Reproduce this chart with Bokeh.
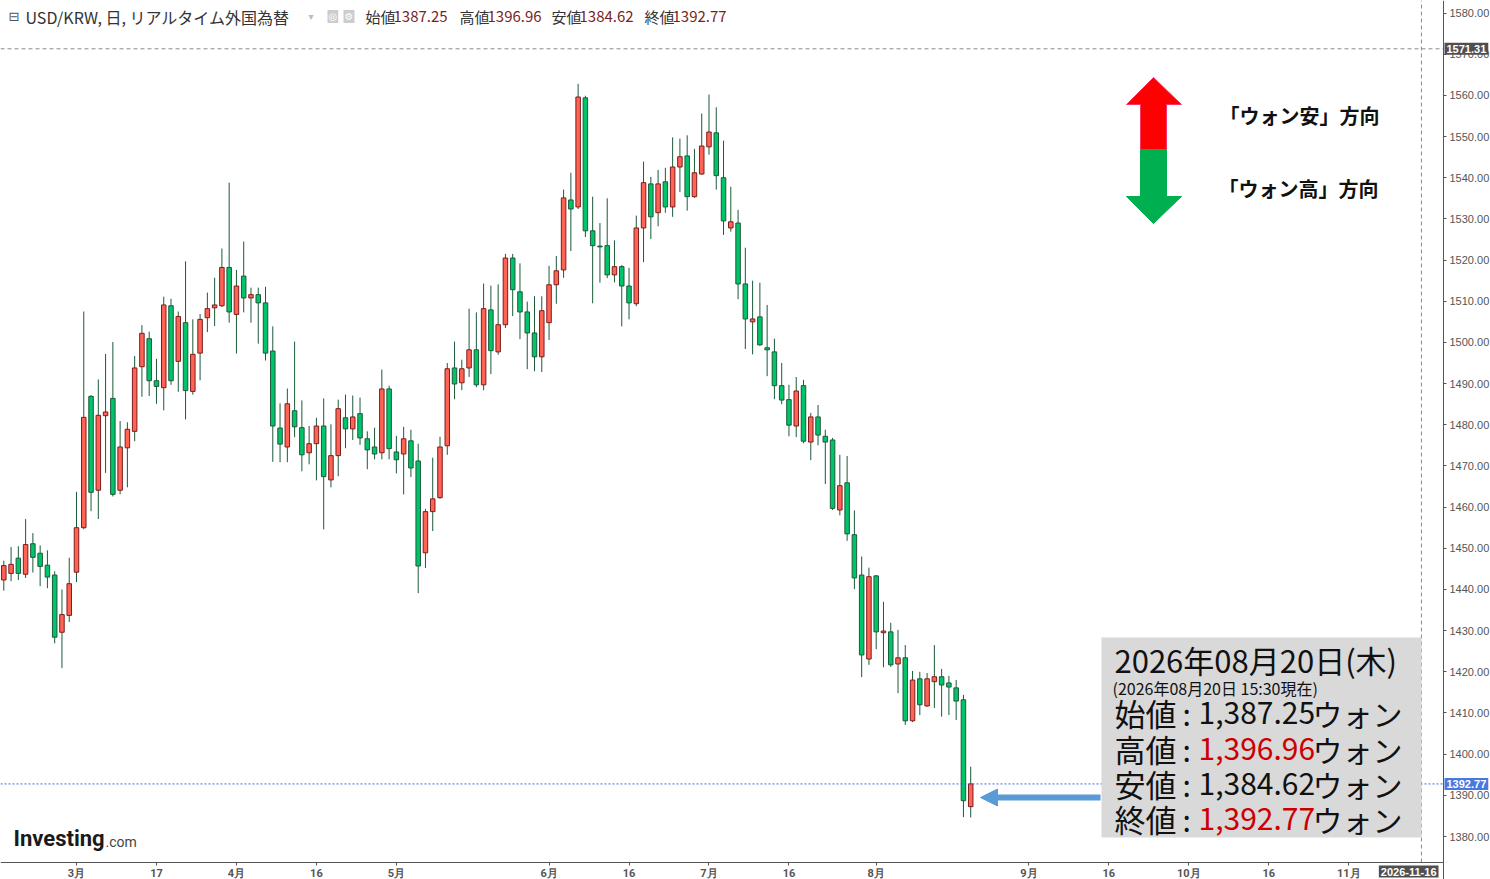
import numpy as np
from bokeh.plotting import figure
from bokeh.models import (Range1d, FixedTicker, NumeralTickFormatter, Label,
                          BoxAnnotation, Arrow, NormalHead, ColumnDataSource)
from bokeh.embed import file_html
from bokeh.resources import INLINE

# ---------------- data ----------------
start_date = "2026-02-16"

opens = [1442.3, 1443.9, 1447.6, 1443.7, 1451.1, 1448.8, 1445.9, 1443.5, 1429.6, 1433.7,
         1444.2, 1455.0, 1486.9, 1464.1, 1482.2, 1486.4, 1464.1, 1474.4, 1478.4, 1494.1,
         1500.9, 1490.7, 1489.0, 1508.9, 1495.4, 1504.8, 1488.1, 1497.4, 1506.0, 1508.4,
         1508.9, 1518.2, 1506.8, 1516.1, 1510.8, 1511.6, 1509.6, 1497.9, 1479.2, 1474.6,
         1483.4, 1479.3, 1473.2, 1475.4, 1479.7, 1466.6, 1472.5, 1481.7, 1479.0, 1482.7,
         1476.6, 1474.6, 1473.2, 1488.7, 1473.4, 1472.9, 1476.1, 1471.2, 1448.9, 1458.9,
         1462.3, 1474.9, 1493.8, 1490.2, 1493.8, 1498.2, 1489.7, 1507.9, 1497.7, 1504.3,
         1520.5, 1512.3, 1507.4, 1502.3, 1496.5, 1504.8, 1514.0, 1517.6, 1534.6, 1532.9,
         1559.4, 1527.1, 1523.4, 1523.5, 1516.4, 1518.4, 1513.7, 1509.4, 1527.8, 1538.5,
         1531.5, 1539.0, 1532.9, 1542.6, 1545.3, 1535.4, 1540.9, 1547.5, 1550.9, 1540.0,
         1527.8, 1529.0, 1514.2, 1505.0, 1506.2, 1498.7, 1497.7, 1489.5, 1486.1, 1479.7,
         1489.5, 1475.8, 1481.9, 1477.2, 1476.3, 1459.3, 1465.9, 1453.3, 1443.5, 1423.1,
         1443.3, 1429.5, 1429.7, 1421.9, 1423.4, 1408.1, 1418.3, 1411.7, 1417.6, 1418.8,
         1417.3, 1416.1, 1413.2, 1387.25]

highs = [1447.0, 1450.3, 1450.5, 1457.1, 1453.7, 1450.7, 1449.5, 1444.4, 1440.0, 1447.7,
         1463.7, 1507.5, 1487.2, 1491.0, 1497.2, 1500.1, 1480.9, 1480.6, 1496.7, 1504.2,
         1502.6, 1496.0, 1511.1, 1510.6, 1507.5, 1519.7, 1505.6, 1506.9, 1512.1, 1515.7,
         1522.8, 1538.8, 1517.6, 1524.5, 1513.3, 1513.3, 1513.5, 1503.9, 1485.2, 1488.8,
         1500.2, 1485.9, 1479.7, 1481.7, 1486.4, 1480.1, 1486.1, 1487.3, 1487.1, 1486.6,
         1478.4, 1479.3, 1493.4, 1489.5, 1477.3, 1479.5, 1478.8, 1475.4, 1459.6, 1472.0,
         1477.1, 1495.0, 1500.2, 1495.8, 1508.2, 1507.3, 1514.3, 1513.8, 1514.1, 1521.5,
         1521.5, 1519.2, 1509.9, 1511.2, 1511.2, 1518.6, 1521.0, 1537.1, 1541.2, 1562.8,
         1559.9, 1535.4, 1529.0, 1535.0, 1524.8, 1518.8, 1518.1, 1530.8, 1543.9, 1540.2,
         1541.9, 1542.4, 1549.8, 1549.5, 1550.3, 1547.0, 1555.6, 1560.2, 1557.1, 1549.0,
         1537.8, 1532.2, 1523.0, 1515.0, 1514.5, 1509.1, 1500.9, 1495.0, 1489.7, 1491.6,
         1490.9, 1482.9, 1484.8, 1478.8, 1476.8, 1472.7, 1472.4, 1459.2, 1448.0, 1445.3,
         1443.5, 1437.0, 1431.9, 1430.2, 1426.5, 1420.2, 1420.0, 1419.7, 1426.5, 1420.7,
         1419.0, 1418.0, 1414.4, 1396.96]

lows = [1439.7, 1442.0, 1442.3, 1442.8, 1444.1, 1440.8, 1440.3, 1426.9, 1420.9, 1432.1,
        1441.8, 1454.6, 1459.0, 1457.1, 1468.3, 1462.6, 1463.1, 1464.8, 1476.0, 1486.8,
        1487.0, 1485.1, 1483.5, 1489.7, 1488.0, 1481.3, 1487.3, 1490.8, 1502.5, 1504.0,
        1508.6, 1504.8, 1497.3, 1507.3, 1504.8, 1499.7, 1495.6, 1471.0, 1470.9, 1470.9,
        1477.0, 1468.7, 1470.4, 1466.5, 1454.6, 1464.8, 1467.5, 1474.3, 1476.3, 1475.1,
        1469.2, 1471.6, 1471.6, 1471.6, 1468.2, 1463.1, 1467.3, 1439.1, 1445.2, 1454.2,
        1462.0, 1472.7, 1486.2, 1488.4, 1491.6, 1489.1, 1488.4, 1492.3, 1497.0, 1503.5,
        1506.4, 1500.8, 1493.5, 1493.0, 1492.8, 1500.6, 1509.4, 1515.7, 1522.2, 1532.4,
        1525.6, 1509.5, 1514.5, 1515.6, 1514.6, 1503.9, 1505.6, 1508.8, 1519.5, 1525.1,
        1528.2, 1531.5, 1530.5, 1536.5, 1532.0, 1535.1, 1540.7, 1545.6, 1537.1, 1526.1,
        1526.9, 1510.5, 1498.4, 1497.1, 1499.2, 1491.8, 1486.2, 1485.0, 1477.2, 1477.0,
        1475.5, 1471.4, 1475.0, 1465.6, 1459.3, 1458.0, 1451.8, 1440.1, 1418.7, 1421.7,
        1425.5, 1421.1, 1421.2, 1414.8, 1407.1, 1407.8, 1409.5, 1411.5, 1411.2, 1409.1,
        1409.5, 1408.3, 1384.7, 1384.62]

closes = [1445.8, 1446.1, 1443.9, 1450.9, 1447.8, 1445.6, 1443.0, 1428.4, 1433.9, 1441.4,
          1455.0, 1481.8, 1463.6, 1482.3, 1483.1, 1463.1, 1474.6, 1478.9, 1493.8, 1502.2,
          1490.7, 1489.3, 1509.1, 1490.7, 1506.3, 1488.3, 1497.1, 1505.6, 1508.2, 1509.1,
          1518.2, 1507.4, 1513.7, 1510.8, 1511.6, 1509.6, 1497.4, 1479.7, 1475.3, 1485.1,
          1479.5, 1472.7, 1475.4, 1479.7, 1467.4, 1472.5, 1483.9, 1479.0, 1481.9, 1476.8,
          1473.9, 1472.9, 1488.7, 1474.2, 1471.5, 1476.6, 1469.5, 1445.7, 1458.9, 1462.0,
          1474.6, 1493.6, 1489.9, 1493.6, 1498.2, 1489.7, 1508.2, 1498.0, 1504.3, 1520.5,
          1512.8, 1507.4, 1502.3, 1496.5, 1507.7, 1514.0, 1517.4, 1535.1, 1532.4, 1559.6,
          1527.1, 1523.5, 1523.2, 1516.4, 1518.4, 1513.7, 1509.6, 1527.8, 1538.8, 1530.5,
          1538.5, 1532.9, 1542.6, 1545.1, 1535.4, 1541.2, 1547.7, 1551.1, 1540.5, 1529.5,
          1529.3, 1514.2, 1505.7, 1505.7, 1499.4, 1498.2, 1489.5, 1486.0, 1479.9, 1488.2,
          1476.0, 1481.9, 1477.5, 1475.8, 1459.7, 1465.2, 1453.5, 1442.8, 1424.1, 1443.1,
          1429.7, 1429.9, 1421.7, 1423.4, 1408.1, 1418.0, 1412.0, 1418.3, 1418.8, 1416.8,
          1416.3, 1412.9, 1388.7, 1392.77]

tick_dates = ["2026-03-02", "2026-03-17", "2026-04-01", "2026-04-16", "2026-05-01",
              "2026-06-01", "2026-06-16", "2026-07-01", "2026-07-16", "2026-08-03",
              "2026-09-01", "2026-09-16", "2026-10-01", "2026-10-16", "2026-11-02"]
tick_labels = ["3月", "17", "4月", "16", "5月", "6月", "16", "7月", "16", "8月",
               "9月", "16", "10月", "16", "11月"]
y_ticks = [1380, 1390, 1400, 1410, 1420, 1430, 1440, 1450, 1460, 1470, 1480,
           1490, 1500, 1510, 1520, 1530, 1540, 1550, 1560, 1570, 1580]

cursor_date = "2026-11-16"
cursor_price = 1571.31
last_open, last_high, last_low, last_close = 1387.25, 1396.96, 1384.62, 1392.77

# ---------------- derived ----------------
n = len(opens)
idx = np.arange(n)
o = np.array(opens); c = np.array(closes)
up = c >= o
src = ColumnDataSource(dict(
    x=idx, high=highs, low=lows,
    top=np.maximum(o, c), bottom=np.minimum(o, c),
    fill=np.where(up, "#ff6354", "#00c46a"),
    edge=np.where(up, "#7c1d1d", "#1c5a3a"),
))
tick_pos = [int(v) for v in np.busday_count(start_date, tick_dates)]
cursor_pos = int(np.busday_count(start_date, cursor_date))

W, H = 1490, 879

# layout helpers: decoration positions are given in pixels of the W x H sheet
def rx(px):
    return (px - 3.3) / 7.27

def ry(py):
    return 1583.04 - py * 0.24287

X0, X1 = rx(0), rx(W)
Y0, Y1 = ry(H), ry(0)
AXIS_X = rx(1443)      # right price axis position
AXIS_Y = ry(862)       # bottom time axis position

p = figure(width=W, height=H, x_range=Range1d(X0, X1), y_range=Range1d(Y0, Y1),
           output_backend="svg", toolbar_location=None, y_axis_location="right",
           min_border_left=0, min_border_top=0, min_border_right=0, min_border_bottom=0)
p.xgrid.visible = False
p.ygrid.visible = False
p.outline_line_color = None
p.background_fill_color = "white"
p.border_fill_color = "white"

ya = p.yaxis[0]
ya.fixed_location = AXIS_X
ya.ticker = FixedTicker(ticks=y_ticks)
ya.formatter = NumeralTickFormatter(format="0.00")
ya.major_label_text_font_size = "11px"
ya.major_label_text_font = "Liberation Sans"
ya.major_label_text_color = "#555555"
ya.axis_line_color = "#555555"
ya.major_tick_line_color = "#555555"
ya.major_tick_out = 3
ya.major_tick_in = 0
ya.minor_tick_line_color = None
ya.major_label_standoff = 3

xa = p.xaxis[0]
xa.fixed_location = AXIS_Y
xa.bounds = (X0, AXIS_X)
xa.ticker = FixedTicker(ticks=tick_pos)
xa.major_label_overrides = {tp: lab for tp, lab in zip(tick_pos, tick_labels)}
xa.major_label_text_font_size = "11px"
xa.major_label_text_font = "Roboto"
xa.major_label_text_font_style = "bold"
xa.major_label_text_color = "#555555"
xa.axis_line_color = "#555555"
xa.major_tick_line_color = "#555555"
xa.major_tick_out = 3
xa.major_tick_in = 0
xa.minor_tick_line_color = None
xa.major_label_standoff = 1

# candles
p.segment(x0="x", y0="low", x1="x", y1="high", source=src, line_color="#1c5a3a", line_width=1)
p.vbar(x="x", width=0.62, top="top", bottom="bottom", source=src,
       fill_color="fill", line_color="edge", line_width=1)

# cursor and last price lines
p.segment(x0=[cursor_pos], y0=[AXIS_Y], x1=[cursor_pos], y1=[Y1], line_color="#8a8a8a",
          line_dash="4 3", line_width=1)
p.segment(x0=[X0], y0=[cursor_price], x1=[AXIS_X], y1=[cursor_price], line_color="#8a8a8a",
          line_dash="4 3", line_width=1)
p.segment(x0=[X0], y0=[last_close], x1=[AXIS_X], y1=[last_close], line_color="#3a66e8",
          line_dash="2 2", line_width=1)

def lab(xp, yp, text, size, color="#111111", font="Noto Sans CJK JP", style="normal",
        align="left", baseline="middle", **kw):
    p.add_layout(Label(x=rx(xp), y=ry(yp), text=text, text_font_size=f"{size}px",
                       text_color=color, text_font=font, text_font_style=style,
                       text_align=align, text_baseline=baseline, **kw))

# axis value boxes
p.add_layout(Label(x=rx(1444), y=cursor_price, text=f"{cursor_price:.2f}", text_font_size="11px",
                   text_font="Liberation Sans", text_font_style="bold", text_color="white",
                   text_align="left", text_baseline="middle", background_fill_color="#4f4f4f",
                   padding=2))
p.add_layout(Label(x=rx(1444), y=last_close, text=f"{last_close:.2f}", text_font_size="11px",
                   text_font="Liberation Sans", text_font_style="bold", text_color="white",
                   text_align="left", text_baseline="middle", background_fill_color="#4a78de",
                   padding=2))
lab(1438, 871, cursor_date, 11, color="white", font="Liberation Sans", style="bold",
    align="right", background_fill_color="#4f4f4f", padding=2)

# header
lab(8, 16, "⊟", 13, color="#555555", font="DejaVu Sans")
lab(25, 16, "USD/KRW, 日, リアルタイム外国為替", 16, color="#333333")
lab(308, 16, "▾", 10, color="#bbbbbb", font="DejaVu Sans")
lab(327, 16, "◎", 10, color="white", font="DejaVu Sans", background_fill_color="#cccccc", padding=1)
lab(343, 16, "⚙", 10, color="white", font="DejaVu Sans", background_fill_color="#cccccc", padding=1)
hdr = [("始値", 365, last_open, 393), ("高値", 459, last_high, 487),
       ("安値", 551, last_low, 579), ("終値", 644, last_close, 672)]
for name, xn, val, xv in hdr:
    lab(xn, 16, name, 15, color="#333333")
    lab(xv, 16, f"{val:.2f}", 15, color="#7a1f1f")

# direction arrow
red_x = [1153, 1181, 1166, 1166, 1140, 1140, 1126]
red_y = [77, 104, 104, 149, 149, 104, 104]
grn_x = [1140, 1166, 1166, 1181, 1153, 1126, 1140]
grn_y = [149, 149, 196, 196, 223, 196, 196]
p.patch([rx(v) for v in red_x], [ry(v) for v in red_y], fill_color="#ff0000", line_color="#ff3366", line_width=1)
p.patch([rx(v) for v in grn_x], [ry(v) for v in grn_y], fill_color="#00b050", line_color="#00b050", line_width=1)
lab(1219, 115, "「ウォン安」方向", 20, style="bold")
lab(1218, 188, "「ウォン高」方向", 20, style="bold")

# info box
p.add_layout(BoxAnnotation(left=rx(1101), right=rx(1421), top=ry(637), bottom=ry(837),
                           fill_color="#d9d9d9", fill_alpha=1.0, line_color=None))
lab(1114, 659, "2026年08月20日(木)", 31)
lab(1112, 687, "(2026年08月20日 15:30現在)", 16)
rows = [("始値", last_open, "#111111", 712), ("高値", last_high, "#cc0000", 748),
        ("安値", last_low, "#111111", 783), ("終値", last_close, "#cc0000", 818)]
for name, val, col, yy in rows:
    lab(1114, yy, name, 31)
    lab(1182, yy, ":", 30)
    lab(1198, yy, f"{val:,.2f}", 30, color=col)
    lab(1312, yy, "ウォン", 30)

p.add_layout(Arrow(end=NormalHead(size=17, fill_color="#5b9bd5", line_color="#5b9bd5"),
                   x_start=rx(1100), y_start=ry(797), x_end=rx(980), y_end=ry(797),
                   line_color="#5b9bd5", line_width=6))

# logo
lab(13, 838, "Investing", 22, color="#1a1a1a", font="Roboto", style="bold")
lab(105, 841, ".com", 14, color="#444444", font="Roboto")

open("out.html", "w").write(file_html(p, INLINE))
